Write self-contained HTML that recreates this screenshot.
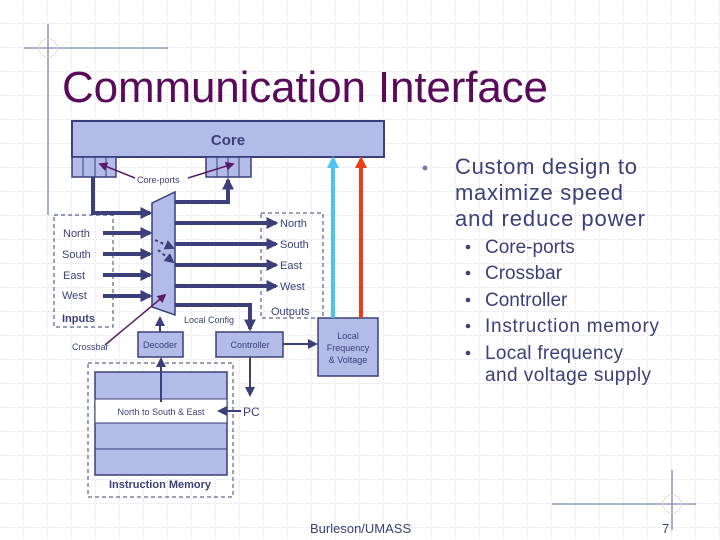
<!DOCTYPE html>
<html><head><meta charset="utf-8"><style>
html,body{margin:0;padding:0;background:#fff}
svg{display:block}
</style></head><body>
<svg width="720" height="540" xmlns="http://www.w3.org/2000/svg" font-family="Liberation Sans, sans-serif">
<defs>
<pattern id="g" width="24" height="24" patternUnits="userSpaceOnUse">
<path d="M24 0V24M0 24H24" stroke="#c4c4d0" stroke-width="1" stroke-dasharray="1.5,1.5" fill="none"/>
</pattern>
<marker id="a" viewBox="0 0 10 10" refX="8" refY="5" markerWidth="3" markerHeight="3" orient="auto"><path d="M0 0L10 5L0 10z" fill="#3b3f7a"/></marker>
<marker id="as" viewBox="0 0 10 10" refX="8" refY="5" markerWidth="5" markerHeight="5" orient="auto"><path d="M0 0L10 5L0 10z" fill="#3b3f7a"/></marker>
<marker id="ap" viewBox="0 0 10 10" refX="8" refY="5" markerWidth="6" markerHeight="6" orient="auto"><path d="M0 0L10 5L0 10z" fill="#5a1a6a"/></marker>
<marker id="ac" viewBox="0 0 10 10" refX="5" refY="5" markerWidth="3" markerHeight="3" orient="auto"><path d="M0 0L10 5L0 10z" fill="#4cc4f0"/></marker>
<marker id="ar" viewBox="0 0 10 10" refX="5" refY="5" markerWidth="3" markerHeight="3" orient="auto"><path d="M0 0L10 5L0 10z" fill="#e8401c"/></marker>
</defs>
<rect width="720" height="540" fill="url(#g)"/>
<g stroke="#7c86b0" stroke-width="1.3">
<line x1="24" y1="48" x2="168" y2="48"/><line x1="48" y1="24" x2="48" y2="215"/>
<line x1="552" y1="504" x2="696" y2="504"/><line x1="672" y1="470" x2="672" y2="530"/>
</g>
<circle cx="48" cy="48" r="9" fill="none" stroke="#e6e0c0"/>
<circle cx="672" cy="504" r="9" fill="none" stroke="#e6e0c0"/>
<text x="62" y="102" font-size="44" fill="#5a0a5a" textLength="486">Communication Interface</text>

<g fill="#b3bbe8" stroke="#3b3f7a" stroke-width="1.5">
<rect x="72" y="121" width="312" height="36" stroke-width="2"/>
<rect x="72" y="157" width="44" height="20"/>
<rect x="206" y="157" width="45" height="20"/>
<polygon points="152,203 175,192 175,315 152,307"/>
<rect x="138" y="332" width="45" height="25"/>
<rect x="216" y="332" width="67" height="25"/>
<rect x="318" y="318" width="60" height="58"/>
<rect x="95" y="372" width="132" height="103"/>
</g>
<g stroke="#3b3f7a" stroke-width="1">
<line x1="83" y1="157" x2="83" y2="177"/><line x1="95" y1="157" x2="95" y2="177"/><line x1="106" y1="157" x2="106" y2="177"/>
<line x1="217" y1="157" x2="217" y2="177"/><line x1="228" y1="157" x2="228" y2="177"/><line x1="239" y1="157" x2="239" y2="177"/>
</g>
<rect x="95" y="399" width="132" height="24" fill="#fff" stroke="#3b3f7a"/>
<line x1="95" y1="449" x2="227" y2="449" stroke="#3b3f7a"/>
<text x="228" y="145" font-size="15" font-weight="bold" fill="#3b3f7a" text-anchor="middle">Core</text>
<g fill="none" stroke="#3b3f7a" stroke-dasharray="4,3">
<rect x="54" y="215" width="59" height="112"/>
<rect x="261" y="213" width="62" height="105"/>
<rect x="88" y="363" width="145" height="134"/>
</g>
<g stroke="#3b3f7a" stroke-width="4" fill="none" marker-end="url(#a)">
<polyline points="93,177 93,213 150,213"/>
<polyline points="175,202 228,202 228,180"/>
<line x1="103" y1="233" x2="150" y2="233"/><line x1="103" y1="254" x2="150" y2="254"/>
<line x1="103" y1="275" x2="150" y2="275"/><line x1="103" y1="296" x2="150" y2="296"/>
<line x1="175" y1="223" x2="276" y2="223"/><line x1="175" y1="244" x2="276" y2="244"/>
<line x1="175" y1="265" x2="276" y2="265"/><line x1="175" y1="286" x2="276" y2="286"/>
<polyline points="175,305 250,305 250,329"/>
</g>
<g stroke="#3b3f7a" stroke-width="2" fill="none" marker-end="url(#as)">
<line x1="160" y1="332" x2="160" y2="318"/>
<line x1="283" y1="344" x2="316" y2="344"/>
<line x1="161" y1="402" x2="161" y2="359"/>
<line x1="250" y1="357" x2="250" y2="395"/>
<line x1="241" y1="411" x2="219" y2="411"/>
<line x1="155" y1="240" x2="173" y2="248" stroke-dasharray="3,3"/>
<line x1="158" y1="250" x2="173" y2="262" stroke-dasharray="3,3"/>
</g>
<g stroke="#5a1a6a" stroke-width="1.5" marker-end="url(#ap)">
<line x1="135" y1="178" x2="100" y2="164"/>
<line x1="188" y1="178" x2="233" y2="164"/>
<line x1="105" y1="345" x2="165" y2="295"/>
</g>
<line x1="333" y1="318" x2="333" y2="162" stroke="#4cc4f0" stroke-width="4" marker-end="url(#ac)"/>
<line x1="361" y1="318" x2="361" y2="162" stroke="#e8401c" stroke-width="4" marker-end="url(#ar)"/>
<g fill="#3b3f7a" font-size="11">
<text x="137" y="183" font-size="9">Core-ports</text>
<text x="63" y="237">North</text><text x="62" y="258">South</text><text x="63" y="279">East</text>
<text x="62" y="299">West</text><text x="62" y="322" font-weight="bold">Inputs</text>
<text x="280" y="227">North</text><text x="280" y="248">South</text><text x="280" y="269">East</text>
<text x="280" y="290">West</text><text x="271" y="315">Outputs</text>
<text x="184" y="323" font-size="9">Local Config</text>
<text x="72" y="350" font-size="9">Crossbar</text>
<text x="160" y="348" font-size="9" text-anchor="middle">Decoder</text>
<text x="250" y="348" font-size="9" text-anchor="middle">Controller</text>
<text x="348" y="339" font-size="9" text-anchor="middle">Local</text>
<text x="348" y="351" font-size="9" text-anchor="middle">Frequency</text>
<text x="348" y="363" font-size="9" text-anchor="middle">&amp; Voltage</text>
<text x="161" y="415" font-size="9" text-anchor="middle">North to South &amp; East</text>
<text x="243" y="416" font-size="12">PC</text>
<text x="160" y="488" font-size="11" font-weight="bold" text-anchor="middle">Instruction Memory</text>
</g>
<g fill="#3b3f7a">
<circle cx="425" cy="168" r="2.5" fill="#7a7ab0"/>
<text x="455" y="174" font-size="22" textLength="182">Custom design to</text>
<text x="455" y="200" font-size="22" textLength="168">maximize speed</text>
<text x="455" y="226" font-size="22" textLength="190">and reduce power</text>
<g font-size="19">
<circle cx="468" cy="247" r="2.3"/><text x="485" y="253">Core-ports</text>
<circle cx="468" cy="273" r="2.3"/><text x="485" y="279">Crossbar</text>
<circle cx="468" cy="300" r="2.3"/><text x="485" y="306">Controller</text>
<circle cx="468" cy="326" r="2.3"/><text x="485" y="332" textLength="174">Instruction memory</text>
<circle cx="468" cy="353" r="2.3"/><text x="485" y="359" textLength="138">Local frequency</text>
<text x="485" y="381" textLength="166">and voltage supply</text>
</g>
</g>
<text x="310" y="533" font-size="13" fill="#3b3f7a">Burleson/UMASS</text>
<text x="662" y="533" font-size="13" fill="#3b3f7a">7</text>
</svg>
</body></html>
